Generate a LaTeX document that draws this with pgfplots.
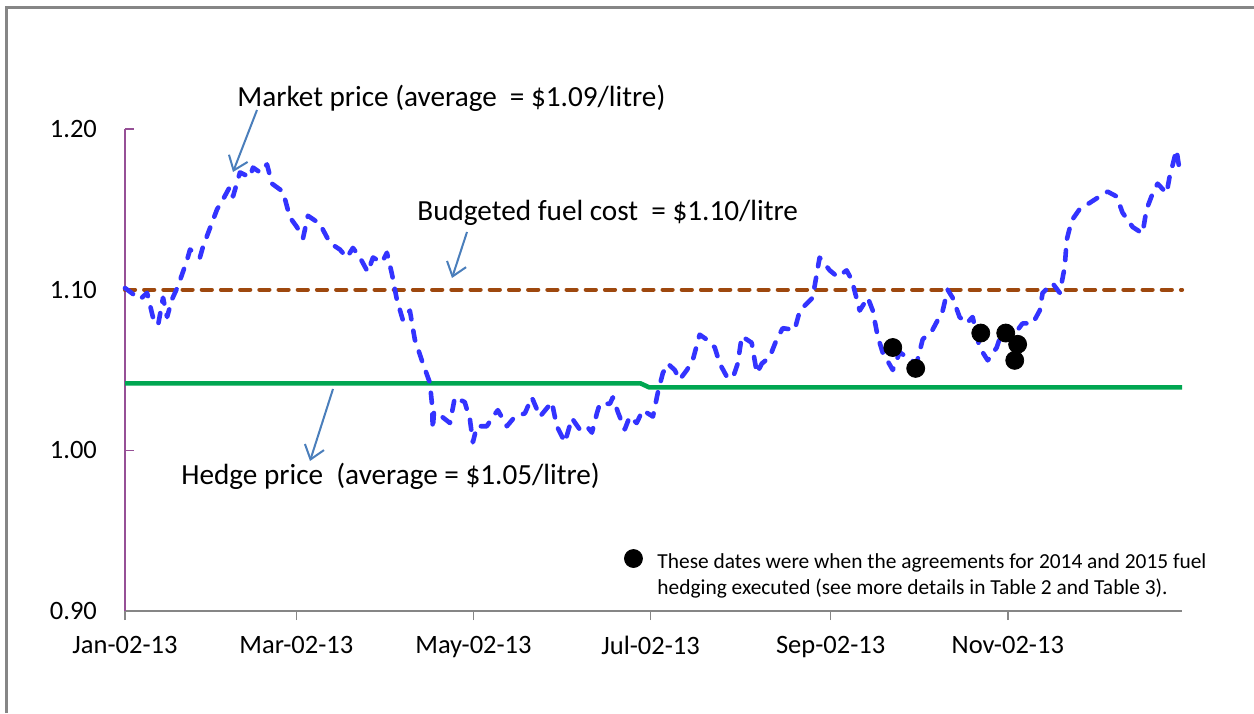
\documentclass[border=0pt]{standalone}
\usepackage{pgfplots}
\pgfplotsset{compat=1.18}
\usetikzlibrary{arrows.meta}
\usepackage{fontspec}
\setmainfont{Carlito}
\definecolor{mktblue}{RGB}{51,51,255}
\definecolor{budbrown}{RGB}{158,72,14}
\definecolor{hedgegreen}{RGB}{0,166,81}
\definecolor{arrowblue}{RGB}{74,126,187}
\definecolor{yaxpurple}{RGB}{150,80,150}
\definecolor{framegray}{RGB}{134,134,134}

\pgfplotstableread{
day value
0 1.101
5.2 1.094
7.6 1.098
9.6 1.083
11.4 1.078
13.1 1.095
14.5 1.083
16.2 1.094
18.2 1.102
21.3 1.118
22.4 1.125
25.8 1.120
26.9 1.127
31.7 1.150
33.7 1.156
36.1 1.164
37.2 1.158
39.6 1.173
43.0 1.170
44.1 1.176
46.5 1.173
48.9 1.178
50.6 1.166
54.4 1.161
56.8 1.145
59.2 1.139
61.3 1.132
63.0 1.146
67.1 1.141
70.6 1.129
74.0 1.125
76.4 1.120
78.5 1.126
80.9 1.120
83.6 1.111
85.4 1.120
88.5 1.117
90.2 1.123
91.9 1.110
93.6 1.094
95.7 1.081
98.1 1.087
99.8 1.069
102.6 1.054
105.0 1.042
105.7 1.029
106.0 1.013
106.4 1.024
109.1 1.021
111.9 1.017
113.6 1.033
117.0 1.030
118.8 1.019
119.8 1.005
121.2 1.015
124.6 1.015
126.7 1.021
128.4 1.025
131.5 1.015
134.3 1.021
137.7 1.023
140.1 1.033
142.9 1.021
147.0 1.030
148.7 1.015
151.5 1.005
153.9 1.020
156.6 1.013
159.0 1.015
160.8 1.011
162.5 1.023
163.5 1.029
167.0 1.029
168.0 1.033
169.7 1.024
172.1 1.013
173.8 1.021
176.2 1.017
178.3 1.025
181.8 1.021
183.5 1.036
185.2 1.048
186.9 1.054
189.3 1.050
191.0 1.044
193.5 1.050
195.5 1.056
197.9 1.072
200.3 1.069
203.1 1.064
204.8 1.054
207.2 1.046
209.3 1.045
211.0 1.054
212.4 1.071
215.8 1.067
217.6 1.048
219.3 1.054
222.0 1.058
224.4 1.069
226.5 1.076
230.6 1.075
232.4 1.087
236.8 1.095
239.2 1.120
242.7 1.112
245.4 1.108
248.5 1.112
250.3 1.106
253.0 1.087
255.8 1.095
257.5 1.087
259.2 1.071
260.9 1.061
264.4 1.050
266.8 1.061
269.2 1.058
272.6 1.054
274.7 1.069
278.1 1.075
281.6 1.087
283.3 1.100
285.0 1.095
287.4 1.083
289.8 1.079
291.9 1.083
294.3 1.064
297.1 1.056
300.2 1.064
302.2 1.075
305.7 1.071
309.1 1.079
312.6 1.079
315.0 1.087
316.0 1.098
319.4 1.104
321.9 1.098
323.6 1.114
324.3 1.131
326.0 1.143
328.7 1.150
332.2 1.154
335.6 1.158
338.4 1.161
341.5 1.158
343.5 1.148
347.0 1.139
350.4 1.135
351.8 1.150
353.9 1.160
355.6 1.166
358.7 1.160
359.7 1.170
362.1 1.187
363.2 1.174
}\marketdata

\begin{document}
\begin{tikzpicture}
\path[use as bounding box] (0,0) rectangle (627pt,356.5pt);
\begin{axis}[
  at={(62.5pt,51pt)}, anchor=south west,
  scale only axis, width=528.5pt, height=241pt,
  xmin=0, xmax=364, ymin=0.9, ymax=1.2,
  axis x line*=bottom, axis y line*=left,
  x axis line style={framegray, line width=0.8pt, -},
  y axis line style={yaxpurple, line width=0.8pt, -},
  xtick={0,59,120,181,243,304},
  xticklabels={Jan-02-13,Mar-02-13,May-02-13,Jul-02-13,Sep-02-13,Nov-02-13},
  ytick={0.9,1.0,1.1,1.2},
  xtick pos=left, ytick pos=left,
  tick align=inside,
  major tick length=4.5pt,
  xtick style={framegray, line width=0.8pt, yshift=-4.5pt},
  ytick style={yaxpurple, line width=0.8pt},
  /pgf/number format/assume math mode=true,
  yticklabel style={/pgf/number format/fixed, /pgf/number format/fixed zerofill, /pgf/number format/precision=2, font=\fontsize{13.25}{15}\selectfont, xshift=-10.5pt, text=black},
  xticklabel style={font=\fontsize{13.25}{15}\selectfont, yshift=-9pt, text=black},
  clip=false,
  legend style={at={(axis cs:169.8,0.941)}, anchor=north west, draw=none, fill=none,
    font=\fontsize{10.7}{13}\selectfont, cells={align=left},
    /tikz/every odd column/.append style={column sep=5.5pt}},
  legend image post style={yshift=8.5pt},
  legend cell align=left,
]
\addplot[hedgegreen, line width=2.3pt, forget plot] coordinates {(0,1.0417) (177.5,1.0417) (180.5,1.0392) (364,1.0392)};
\addplot[budbrown, line width=2.1pt, dash pattern=on 5pt off 4.6pt, line cap=round, forget plot] coordinates {(0,1.10) (364,1.10)};
\addplot[mktblue, line width=2.3pt, dash pattern=on 5pt off 5.8pt, line cap=round, line join=round, forget plot] table[x=day, y=value] {\marketdata};
\addplot[only marks, mark=*, mark size=4.5pt, black] coordinates {(264.4,1.064) (272.3,1.051) (294.7,1.073) (303.3,1.073) (307.4,1.066) (306.4,1.056)};
\addlegendentry{These dates were when the agreements for 2014 and 2015 fuel\\hedging executed (see more details in Table 2 and Table 3).}
\end{axis}
\begin{scope}[x=0.5pt, y=-0.5pt, yshift=356.5pt]
\draw[framegray, line width=1.5pt] (6,713) -- (6,8) -- (1254,8);
\node[anchor=west, inner sep=0, font=\fontsize{14.6}{17}\selectfont] at (237,98) {Market price (average~ = \$1.09/litre)};
\node[anchor=west, inner sep=0, font=\fontsize{14.6}{17}\selectfont] at (417,213) {Budgeted fuel cost~ = \$1.10/litre};
\node[anchor=west, inner sep=0, font=\fontsize{14.6}{17}\selectfont] at (181,476) {Hedge price~ (average = \$1.05/litre)};
\draw[arrowblue, line width=1pt, -{Straight Barb[length=6.5pt,width=10pt]}] (257,110) -- (233,172);
\draw[arrowblue, line width=1pt, -{Straight Barb[length=6.5pt,width=10pt]}] (467,232) -- (452,278);
\draw[arrowblue, line width=1pt, -{Straight Barb[length=6.5pt,width=10pt]}] (333,389) -- (310,461);
\end{scope}
\end{tikzpicture}
\end{document}
